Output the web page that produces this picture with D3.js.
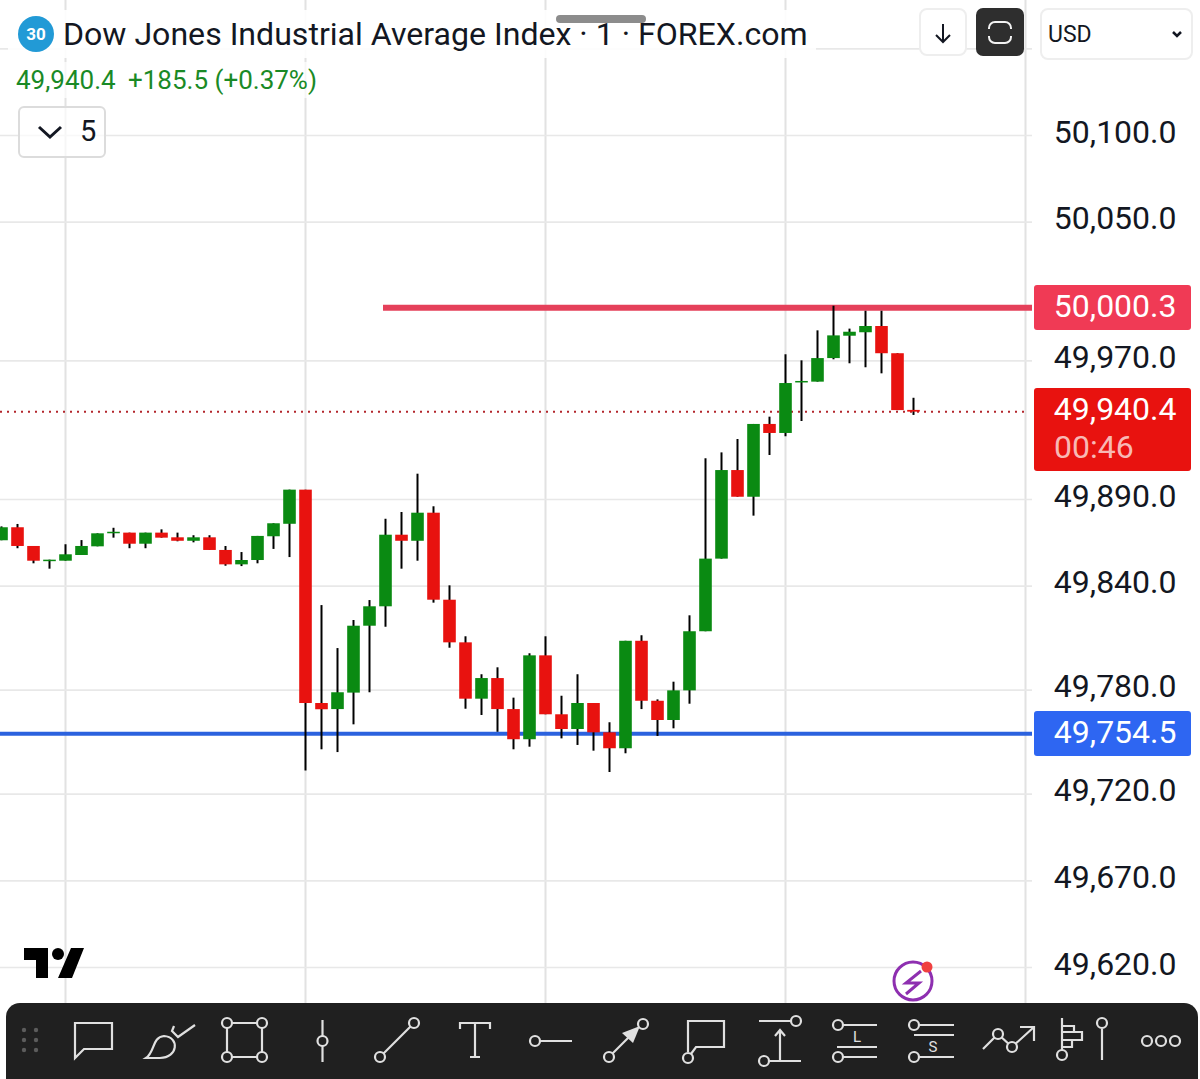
<!DOCTYPE html>
<html>
<head>
<meta charset="utf-8">
<script src="https://cdnjs.cloudflare.com/ajax/libs/d3/7.8.5/d3.min.js"></script>
<style>
html,body{margin:0;padding:0;background:#fff;overflow:hidden}
svg{display:block;font-family:Roboto,sans-serif}
</style>
</head>
<body>
<svg id="chart" width="1200" height="1079"></svg>
<script>
// one minute candles
var opens = [49866.2,49873.7,49862.9,49854.2,49854.4,49857.7,49862.7,49870.4,49870.6,49864.2,49870.6,49867.9,49865.9,49867.9,49860.6,49852.3,49854.8,49868.5,49875.7,49895.4,
    49772.3,49768.8,49778.3,49816.9,49828.1,49869.4,49865.9,49882.1,49831.9,49807.3,49774.8,49786.7,49768.8,49751.4,49799.8,49765.8,49757.3,49772.3,49755.4,49746.2,
    49808.2,49773.6,49762.5,49779.6,49813.7,49855.6,49906.7,49891.3,49933.3,49928.1,49957.3,49957.7,49971.3,49984.2,49986.2,49989.8,49974.1,49941.4];
var highs = [49874.2,49875.6,49862.9,49855.0,49863.9,49866.3,49870.2,49873.4,49870.6,49870.6,49872.5,49870.6,49869.1,49869.1,49862.9,49859.4,49868.7,49876.0,49895.4,49895.4,
    49828.8,49804.0,49820.2,49831.7,49878.6,49882.5,49904.6,49885.8,49840.2,49810.8,49788.9,49792.9,49775.4,49801.0,49810.8,49776.5,49788.9,49772.3,49761.2,49808.2,
    49811.4,49774.4,49784.6,49822.9,49913.5,49916.9,49924.6,49933.3,49937.5,49973.5,49970.0,49987.3,50001.5,49988.3,49998.6,49998.6,49974.1,49948.4];
var lows = [49866.2,49861.6,49852.9,49849.8,49854.4,49857.7,49862.7,49867.7,49861.6,49861.6,49867.7,49865.6,49865.0,49860.6,49851.5,49851.3,49852.9,49861.2,49856.5,49733.3,
    49745.6,49744.0,49760.0,49778.5,49816.3,49849.8,49854.4,49830.2,49804.2,49769.0,49765.4,49755.7,49745.6,49747.1,49765.8,49751.9,49748.1,49744.8,49732.5,49743.3,
    49768.8,49753.3,49757.7,49771.9,49813.7,49855.6,49891.3,49880.4,49915.4,49926.2,49935.0,49957.7,49970.6,49968.3,49966.0,49962.5,49941.3,49938.5];
var closes = [49873.7,49862.9,49854.4,49855.0,49858.1,49862.9,49870.2,49871.1,49864.2,49870.6,49867.7,49865.9,49867.9,49860.6,49852.3,49854.8,49868.7,49876.0,49895.4,49772.3,
    49768.7,49778.5,49816.9,49828.1,49869.4,49865.9,49882.1,49831.9,49807.3,49774.8,49786.7,49768.8,49751.4,49799.8,49765.8,49757.3,49772.3,49755.4,49746.2,49808.2,
    49773.6,49762.5,49779.6,49813.7,49855.6,49906.7,49891.3,49933.3,49928.1,49956.9,49958.1,49971.3,49984.4,49986.5,49989.8,49974.1,49941.3,49940.4];

var priceTicks = [50150,50100,50050,49970,49890,49840,49780,49720,49670,49620];
var timeGrid = [4,19,34,49,64];
var resistance = 50000.3, support = 49754.5, lastPrice = 49940.4;
var fmt = d3.format(",.1f");

var upColor = "#0a8a12", downColor = "#e8120f";

var x = d3.scaleLinear().domain([0,57]).range([1.5,913.5]);
var y = d3.scaleLinear().domain([50100,49620]).range([135,967]);

var svg = d3.select("#chart");

// vertical grid
svg.selectAll("line.vgrid").data(timeGrid).enter().append("line")
    .attr("class","vgrid")
    .attr("x1",function(d){return x(d);}).attr("x2",function(d){return x(d);})
    .attr("y1",0).attr("y2",1005)
    .style("stroke","#e2e2e2").style("stroke-width",2);

// price axis, grid lines come from its ticks
var axis = svg.append("g").attr("transform","translate(1032,0)")
    .call(d3.axisRight(y).tickValues(priceTicks).tickFormat(fmt).tickSize(-1032));
axis.select(".domain").remove();
axis.selectAll("line").style("stroke","#e8e8e8").style("stroke-width",1.6);
axis.selectAll("text")
    .attr("x",144.5).attr("dy","0.22em")
    .style("text-anchor","end").style("font-size","32px").style("fill","#131722")
    .style("font-family","Roboto,sans-serif");
axis.selectAll(".tick").filter(function(d){return d === 50150;}).select("text").remove();

// level lines
svg.append("line").attr("x1",0).attr("x2",1026).attr("y1",y(lastPrice)).attr("y2",y(lastPrice))
    .style("stroke","#b3262c").style("stroke-width",2).style("stroke-dasharray","2,5");
svg.append("line").attr("x1",383).attr("x2",1032).attr("y1",y(resistance)).attr("y2",y(resistance))
    .style("stroke","#e5405a").style("stroke-width",6);
svg.append("line").attr("x1",0).attr("x2",1032).attr("y1",y(support)).attr("y2",y(support))
    .style("stroke","#2b62de").style("stroke-width",4);

// candles
var candles = svg.append("g").selectAll("g").data(d3.range(opens.length)).enter().append("g");
candles.append("line")
    .attr("x1",function(i){return x(i);}).attr("x2",function(i){return x(i);})
    .attr("y1",function(i){return y(highs[i]);}).attr("y2",function(i){return y(lows[i]);})
    .style("stroke","#000").style("stroke-width",2);
candles.append("rect")
    .attr("x",function(i){return x(i) - 6.3;}).attr("width",12.6)
    .attr("y",function(i){return y(Math.max(opens[i],closes[i]));})
    .attr("height",function(i){return Math.max(1.5,Math.abs(y(opens[i]) - y(closes[i])));})
    .style("fill",function(i){return closes[i] >= opens[i] ? upColor : downColor;});

// price labels on the right
function priceTag(top,h,color,txt){
    svg.append("rect").attr("x",1034).attr("y",top).attr("width",157).attr("height",h).attr("rx",3).style("fill",color);
    svg.append("text").attr("x",1176.5).attr("y",top + 32).style("text-anchor","end")
        .style("font-size","32px").style("fill","#fff").text(txt);
}
priceTag(285,45,"#f03a55",fmt(resistance));
priceTag(711,45,"#2e66f2",fmt(support));
priceTag(388,83,"#e8120f",fmt(lastPrice));
svg.append("text").attr("x",1054).attr("y",458).style("font-size","32px").style("fill","#f8b8b4").text("00:46");

// legend header
svg.append("rect").attr("x",8).attr("y",10).attr("width",808).attr("height",48).style("fill","#fff").style("opacity",0.88);
svg.append("rect").attr("x",10).attr("y",62).attr("width",312).attr("height",36).style("fill","#fff").style("opacity",0.7);
svg.append("circle").attr("cx",36).attr("cy",34).attr("r",18).style("fill","#229ad6");
svg.append("text").attr("x",36).attr("y",40).style("text-anchor","middle")
    .style("font-size","17px").style("font-weight","700").style("fill","#fff").text("30");
svg.append("text").attr("x",63).attr("y",45).style("font-size","32.1px").style("fill","#131722")
    .text("Dow Jones Industrial Average Index · 1 · FOREX.com");
svg.append("text").attr("x",16).attr("y",89).style("font-size","26px").style("fill","#1a8a26").text("49,940.4");
svg.append("text").attr("x",128).attr("y",89).style("font-size","26px").style("fill","#1a8a26").text("+185.5 (+0.37%)");
svg.append("rect").attr("x",19).attr("y",107).attr("width",86).attr("height",50).attr("rx",5)
    .style("fill","#fff").style("fill-opacity",0.7).style("stroke","#dcdcdc").style("stroke-width",2);
svg.append("path").attr("d","M39 127 L50 137 L61 127").style("fill","none").style("stroke","#131722").style("stroke-width",3);
svg.append("text").attr("x",80).attr("y",141).style("font-size","29px").style("fill","#131722").text("5");

// drag handle and top right buttons
svg.append("rect").attr("x",556).attr("y",15).attr("width",90).attr("height",8).attr("rx",4).style("fill","#8c8c8c");
svg.append("rect").attr("x",920).attr("y",9).attr("width",46).attr("height",46).attr("rx",7)
    .style("fill","#fff").style("stroke","#eeeeee").style("stroke-width",2);
svg.append("path").attr("d","M943 24 V42 M936 35 L943 42 L950 35").style("fill","none").style("stroke","#131722").style("stroke-width",2);
svg.append("rect").attr("x",976).attr("y",8).attr("width",48).attr("height",48).attr("rx",7).style("fill","#2e2e2e");
svg.append("rect").attr("x",989).attr("y",22).attr("width",22).attr("height",21).attr("rx",6)
    .style("fill","none").style("stroke","#f2f2f2").style("stroke-width",2);
svg.append("rect").attr("x",986).attr("y",29).attr("width",28).attr("height",7).style("fill","#2e2e2e");
svg.append("rect").attr("x",1041).attr("y",9).attr("width",151).attr("height",50).attr("rx",7)
    .style("fill","#fff").style("stroke","#eeeeee").style("stroke-width",2);
svg.append("text").attr("x",1048).attr("y",42).style("font-size","23px").style("fill","#131722").text("USD");
svg.append("path").attr("d","M1173 32 L1177 36 L1181 32").style("fill","none").style("stroke","#131722").style("stroke-width",2.5);

// tradingview mark
svg.append("path").attr("d","M24 948 H48 V978 H36 V960 H24 Z M71 948 H84 L72 978 H58 Z").style("fill","#000");
svg.append("circle").attr("cx",58).attr("cy",954).attr("r",6).style("fill","#000");

// flash badge
svg.append("circle").attr("cx",913).attr("cy",981).attr("r",19).style("fill","#fff").style("stroke","#8e2fb0").style("stroke-width",3);
svg.append("path").attr("d","M921 971 L906 983 H919 L906 994").style("fill","none").style("stroke","#8e2fb0").style("stroke-width",3);
svg.append("circle").attr("cx",927).attr("cy",967).attr("r",5.5).style("fill","#f04040");

// drawing toolbar
svg.append("rect").attr("x",6).attr("y",1003).attr("width",1192).attr("height",90).attr("rx",14).style("fill","#202020");
var dots = [[24,1030],[36,1030],[24,1040],[36,1040],[24,1050],[36,1050]];
svg.selectAll("circle.grip").data(dots).enter().append("circle").attr("class","grip")
    .attr("cx",function(d){return d[0];}).attr("cy",function(d){return d[1];}).attr("r",2.2).style("fill","#5c5c5c");

var toolPaths = [
    "M75 1023 H112 V1049 H84 L75 1058 Z",
    "M146 1058 C155 1052 152 1037 164 1036 C180 1037 178 1058 160 1058 Z M174 1026 L172 1031 L178 1037 L195 1025",
    "M228 1023 H262 M228 1057 H262 M227 1028 V1052 M262 1028 V1052",
    "M322.5 1020 V1062",
    "M380 1057 L414 1023",
    "M460 1029 V1023 H490 V1029 M475 1023 V1057 M470 1057 H480",
    "M535 1041 H572",
    "M609 1057 L632 1034",
    "M688 1058 L696 1047 H724 V1021 H688 V1052",
    "M759 1021 H796 M780 1030 V1060 M775 1036 L780 1030 L785 1036 M764 1061 H801",
    "M838 1025 H877 M837 1047 H877 M838 1057 H877",
    "M914 1025 H954 M914 1035 H954 M914 1057 H954",
    "M983 1049 L998 1034 L1012 1047 L1034 1027 M1020 1027 H1034 V1041",
    "M1062 1018 V1052 M1062 1026 H1074 V1032 H1062 M1062 1032 H1082 V1040 H1062 M1062 1040 H1072 V1047 H1062 M1102 1029 V1060"
];
svg.selectAll("path.tool").data(toolPaths).enter().append("path").attr("class","tool")
    .attr("d",function(d){return d;})
    .style("fill","none").style("stroke","#e0e0e0").style("stroke-width",2.2);
svg.append("path").attr("d","M640 1026 L622 1033 L633 1043 Z").style("fill","#e0e0e0");

var toolKnobs = [[227,1023],[262,1023],[227,1057],[262,1057],[322.5,1041],[380,1057],[414,1023],[535,1041],[609,1057],[643,1024],
    [688,1058],[796,1021],[764,1061],[838,1025],[838,1057],[914,1025],[914,1057],[998,1034],[1012,1047],[1062,1055],[1102,1023],
    [1147,1041],[1161,1041],[1175,1041]];
svg.selectAll("circle.knob").data(toolKnobs).enter().append("circle").attr("class","knob")
    .attr("cx",function(d){return d[0];}).attr("cy",function(d){return d[1];}).attr("r",5)
    .style("fill","#202020").style("stroke","#e0e0e0").style("stroke-width",2.2);
svg.append("text").attr("x",857).attr("y",1042).style("text-anchor","middle").style("font-size","15px").style("fill","#e0e0e0").text("L");
svg.append("text").attr("x",933).attr("y",1052).style("text-anchor","middle").style("font-size","15px").style("fill","#e0e0e0").text("S");
</script>
</body>
</html>
